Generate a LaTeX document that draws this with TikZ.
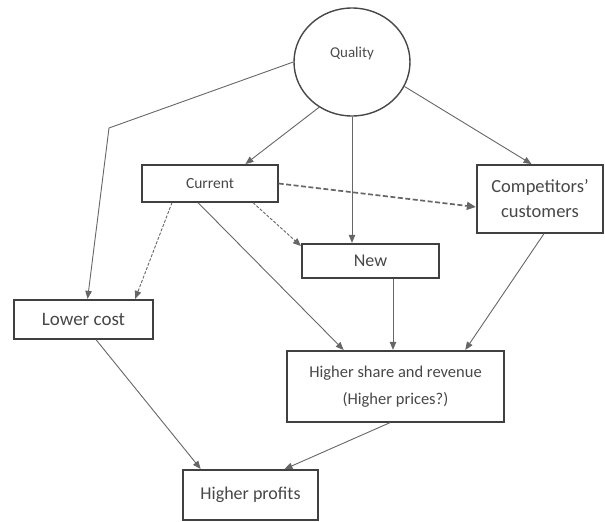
\documentclass[tikz,border=0pt]{standalone}
\usepackage{fontspec}
\setmainfont{Carlito}
\usetikzlibrary{arrows.meta,shapes.geometric}
\tikzset{
  boxnode/.style={draw=black!75, line width=1.3pt, rectangle, inner sep=0pt, align=center, text=black!72, font=\fontsize{18}{24}\selectfont},
  arr/.style={draw=black!60, line width=0.9pt, -{Triangle[length=8pt,width=6.5pt]}, shorten >=0.5pt},
  thickdash/.style={arr, line width=1.7pt, dash pattern=on 5pt off 2.5pt, -{Triangle[length=9pt,width=8pt]}},
  thindash/.style={arr, dash pattern=on 3pt off 1.6pt}
}
\begin{document}
\begin{tikzpicture}[x=1pt,y=-1pt]
\useasboundingbox (0,0) rectangle (605,522);
\node[draw=black!72, line width=1.4pt, ellipse, minimum width=116pt, minimum height=108pt, inner sep=0pt,
      label={[font=\fontsize{15}{17}\selectfont, text=black!70, yshift=8pt]center:Quality}] (q) at (352,62) {};
\node[boxnode, minimum width=136pt, minimum height=37pt, font=\fontsize{15.5}{17}\selectfont] (cur) at (210,183.5) {Current};
\node[boxnode, minimum width=126pt, minimum height=68pt, font=\fontsize{18.5}{25}\selectfont] (comp) at (540,199) {Competitors'\\customers};
\node[boxnode, minimum width=137pt, minimum height=34pt] (new) at (370.5,261) {New};
\node[boxnode, minimum width=139pt, minimum height=39pt, font=\fontsize{19}{22}\selectfont] (lc) at (83.5,319.5) {Lower cost};
\node[boxnode, minimum width=217pt, minimum height=71pt, font=\fontsize{16.5}{27}\selectfont] (hs) at (395.5,386.5) {Higher share and revenue\\(Higher prices?)};
\node[boxnode, minimum width=135pt, minimum height=50pt] (hp) at (250.5,495) {Higher profits};
\coordinate (bendA) at (109,128);
% connectors
\draw[arr] (q.west) -- (bendA) -- ([xshift=4pt]lc.north);
\draw[arr] (q.234) -- ([xshift=35pt]cur.north);
\draw[arr] (q.south) -- (q.south |- new.north);
\draw[arr] (q.335) -- ([xshift=-8pt]comp.north);
\draw[thickdash] (cur.east) -- ([yshift=-8pt]comp.west);
\draw[thindash] ([xshift=43pt]cur.south) -- ([yshift=-3pt]new.north west);
\draw[thindash] ([xshift=-38pt]cur.south) -- ([xshift=51.5pt]lc.north);
\draw[arr] ([xshift=-12pt]cur.south) -- ([xshift=-51.5pt]hs.north);
\draw[arr] ([xshift=22.5pt]new.south) -- ([xshift=-2.5pt]hs.north);
\draw[arr] ([xshift=4pt]comp.south) -- ([xshift=69.5pt]hs.north);
\draw[arr] ([xshift=12.5pt]lc.south) -- ([xshift=-49.5pt]hp.north);
\draw[arr] ([xshift=-5.5pt]hs.south) -- ([xshift=33.5pt]hp.north);
\end{tikzpicture}
\end{document}
